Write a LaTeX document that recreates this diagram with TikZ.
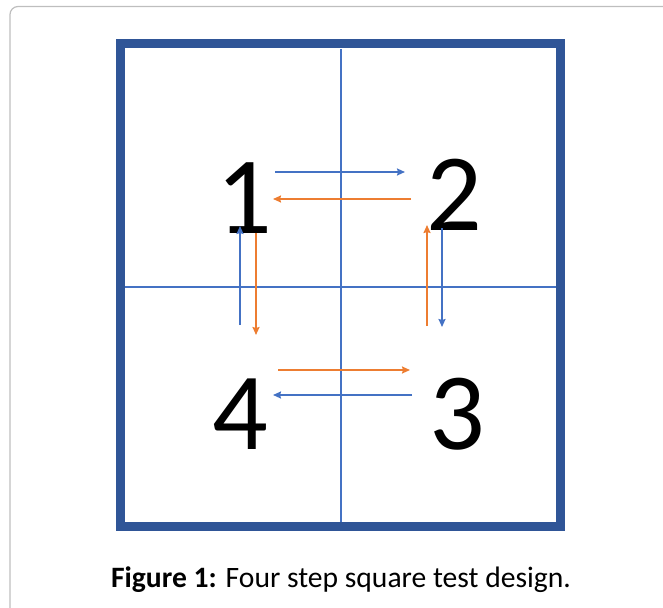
\documentclass[tikz,border=0pt]{standalone}
\usepackage{fontspec}
\setmainfont{Carlito}
\usepackage{tikz}
\usetikzlibrary{arrows.meta}
\definecolor{sqblue}{RGB}{47,85,151}
\definecolor{lineblue}{RGB}{68,114,196}
\definecolor{steporange}{RGB}{237,125,49}
\definecolor{framegray}{RGB}{190,190,190}
\tikzset{
  outerbox/.style={draw=sqblue, line width=9pt},
  divider/.style={draw=lineblue, line width=2.4pt},
  digit/.style={inner sep=0pt, font=\fontsize{110}{110}\selectfont},
  arrowB/.style={-{Stealth[length=8pt, width=7pt, inset=1pt]}, line width=1.8pt, color=lineblue},
  arrowO/.style={-{Stealth[length=8pt, width=7pt, inset=1pt]}, line width=1.8pt, color=steporange}
}
\begin{document}
\begin{tikzpicture}[x=1pt, y=-1pt]
  \clip (0,0) rectangle (663,607);
  % Page frame
  \draw[framegray, line width=1.2pt, rounded corners=8pt] (10,6.5) rectangle (700,650);
  % Square and its quarters
  \draw[divider] (341,49) -- (341,522);
  \draw[divider] (124,287) -- (556,287);
  \draw[outerbox] (120,44) rectangle (560,526);
  % Positions
  \node[digit] (n1) at (244,198) {1};
  \node[digit] (n2) at (454,195) {2};
  \node[digit] (n3) at (457,414) {3};
  \node[digit] (n4) at (240,414) {4};
  % Arrow ends
  \coordinate (a12s) at (275,172);  \coordinate (a12e) at (405,172);
  \coordinate (a21s) at (411,199);  \coordinate (a21e) at (273,199);
  \coordinate (a41s) at (240,325);  \coordinate (a41e) at (240,226);
  \coordinate (a14s) at (256,233);  \coordinate (a14e) at (256,335);
  \coordinate (a32s) at (427,326);  \coordinate (a32e) at (427,225);
  \coordinate (a23s) at (442,228);  \coordinate (a23e) at (442,327);
  \coordinate (a43s) at (278,370);  \coordinate (a43e) at (410,370);
  \coordinate (a34s) at (412,395);  \coordinate (a34e) at (273,395);
  % Steps
  \draw[arrowB] (a12s) -- (a12e);
  \draw[arrowO] (a21s) -- (a21e);
  \draw[arrowB] (a41s) -- (a41e);
  \draw[arrowO] (a14s) -- (a14e);
  \draw[arrowO] (a32s) -- (a32e);
  \draw[arrowB] (a23s) -- (a23e);
  \draw[arrowO] (a43s) -- (a43e);
  \draw[arrowB] (a34s) -- (a34e);
  % Caption
  \node[anchor=base, inner sep=0pt, font=\fontsize{29.6}{31}\selectfont] (caption) at (341,587)
    {\textbf{Figure 1:} Four step square test design.};
\end{tikzpicture}
\end{document}
